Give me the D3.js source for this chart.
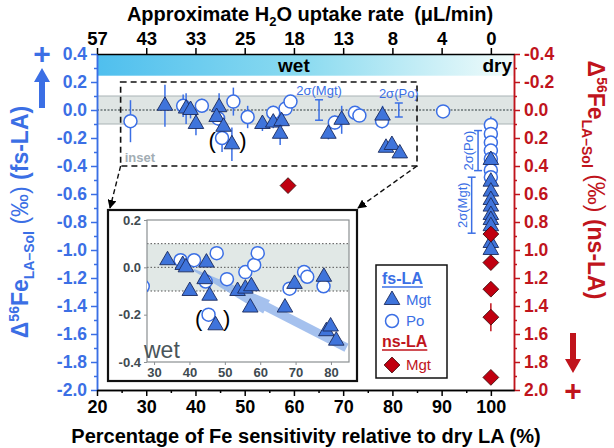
<!DOCTYPE html>
<html><head><meta charset="utf-8">
<script src="https://cdn.jsdelivr.net/npm/d3@7"></script>
<style>body{margin:0;background:#fff} svg{display:block} text{font-family:"Liberation Sans",Arial,Helvetica,sans-serif}</style>
</head><body><svg id="c" width="614" height="448"></svg>
<script>
// ---------------- DATA ----------------
const bottomTicks = [20, 30, 40, 50, 60, 70, 80, 90, 100];
const topTickLabels = ["57", "43", "33", "25", "18", "13", "8", "4", "0"];
const leftTicks = [0.4, 0.2, 0.0, -0.2, -0.4, -0.6, -0.8, -1.0, -1.2, -1.4, -1.6, -1.8, -2.0];
const rightTicks = [-0.4, -0.2, 0.0, 0.2, 0.4, 0.6, 0.8, 1.0, 1.2, 1.4, 1.6, 1.8, 2.0];
const insetXTicks = [30, 40, 50, 60, 70, 80];
const insetYTicks = [0.2, 0.0, -0.2, -0.4];

// fs-LA, magnetite (wet runs)
const mgtWetX   = [33.8, 38.1, 39.0, 40.1, 44.8, 44.3, 45.7, 47.4, 53.6, 55.8, 57.5, 57.2, 67.0, 69.7, 78.0, 78.7, 79.9, 81.5];
const mgtWetV   = [0.03, 0.01, 0.00, -0.10, 0.02, -0.05, -0.12, -0.245, -0.10, -0.09, -0.08, -0.17, -0.17, -0.07, -0.04, -0.27, -0.25, -0.31];
const mgtWetErr = [0.15, 0.11, 0.06, 0.08, 0.10, 0.05, 0.05, 0.12, 0.05, 0.04, 0.04, 0.08, 0.04, 0.10, 0.07, 0, 0, 0];
// fs-LA, pyrrhotite (wet runs)
const poWetX   = [26.8, 37.5, 41.3, 47.7, 44.6, 45.4, 50.6, 55.8, 58.3, 59.3, 68.3, 72.4, 73.3, 77.9, 90.3];
const poWetV   = [-0.08, 0.03, 0.03, 0.06, -0.06, -0.20, -0.05, -0.02, 0.01, 0.06, -0.09, -0.02, -0.04, -0.08, -0.01];
const poWetErr = [0.15, 0.08, 0.05, 0.10, 0.05, 0.10, 0.08, 0.05, 0.04, 0.04, 0.05, 0.04, 0.04, 0.05, 0];
// fs-LA dry runs (x = 100)
const poDryV  = [-0.107, -0.171, -0.233, -0.29, -0.35, -0.43, -0.48];
const mgtDryV = [-0.357, -0.512, -0.583, -0.643, -0.69, -0.75, -0.786, -0.83, -0.95, -1.0];
// ns-LA magnetite (right axis)
const nsMgtX   = [58.8, 100, 100, 100, 100, 100];
const nsMgtV   = [0.54, 0.886, 1.09, 1.28, 1.48, 1.91];
const nsMgtErr = [0, 0, 0, 0, 0.1, 0];
// 2-sigma reference bars: [x, centre, half-length, label]
const sigmaBarsTop = [[65.1, 0, 0.073, "2σ(Mgt)"], [81.3, 0, 0.05, "2σ(Po)"]];
const sigmaBarsDry = [[97.4, -0.29, 0.143, "2σ(Po)"], [96.1, -0.68, 0.2, "2σ(Mgt)"]];
// inset trend arrow (x, value)
const trendX = [41.1, 61.8, 84.4];
const trendV = [-0.01, -0.167, -0.34];
// zoom box in main plot (x range, value range)
const zoomBoxX = [24.8, 85];
const zoomBoxV = [0.2, -0.4];

// ---------------- STYLE ----------------
const BLUE = "#3b6fe5", RED = "#c0141c", TRI_FILL = "#3f74db", TRI_STROKE = "#1b2a5c";
const svg = d3.select("#c");
const P = {l: 97, r: 514, t: 54, b: 390};

const x = d3.scaleLinear().domain([20, 104.7]).range([P.l, P.r]);
const yL = d3.scaleLinear().domain([0.4, -2.0]).range([P.t, P.b]);
const yR = d3.scaleLinear().domain([-0.4, 2.0]).range([P.t, P.b]);

const fmt = v => (Math.abs(v) < 1e-9 ? 0 : v).toFixed(1);

// gradient
const defs = svg.append("defs");
const g1 = defs.append("linearGradient").attr("id", "wetgrad");
g1.append("stop").attr("offset", "0").attr("stop-color", "#4fbfee");
g1.append("stop").attr("offset", "0.5").attr("stop-color", "#8cdbf0");
g1.append("stop").attr("offset", "1").attr("stop-color", "#f2fcfb");
defs.append("clipPath").attr("id", "mainclip").append("rect")
  .attr("x", P.l).attr("y", P.t).attr("width", P.r - P.l).attr("height", P.b - P.t);
const mk = defs.append("marker").attr("id", "ah").attr("viewBox", "0 0 10 10").attr("refX", 9).attr("refY", 5)
  .attr("markerWidth", 9).attr("markerHeight", 9).attr("orient", "auto").attr("markerUnits", "userSpaceOnUse");
mk.append("path").attr("d", "M0,0 L10,5 L0,10 Z").attr("fill", "#000");

// wet bar
svg.append("rect").attr("x", P.l).attr("y", yL(0.4)).attr("width", P.r - P.l).attr("height", yL(0.245) - yL(0.4))
  .attr("fill", "url(#wetgrad)");
svg.append("text").attr("x", x(60)).attr("y", 72).attr("text-anchor", "middle").attr("font-size", 19).attr("font-weight", "bold").text("wet");
svg.append("text").attr("x", P.r - 2).attr("y", 72).attr("text-anchor", "end").attr("font-size", 19).attr("font-weight", "bold").text("dry");

// grey band
svg.append("rect").attr("x", P.l).attr("y", yL(0.1)).attr("width", P.r - P.l).attr("height", yL(-0.1) - yL(0.1))
  .attr("fill", "#dfe5e4");
[0.1, -0.1].forEach(v => svg.append("line").attr("x1", P.l).attr("x2", P.r).attr("y1", yL(v)).attr("y2", yL(v))
  .attr("stroke", "#a9b3b5").attr("stroke-width", 1));
svg.append("line").attr("x1", P.l).attr("x2", P.r).attr("y1", yL(0)).attr("y2", yL(0))
  .attr("stroke", "#2d3a3d").attr("stroke-width", 1.2).attr("stroke-dasharray", "2,1.5");

// dashed zoom box
svg.append("rect").attr("x", x(zoomBoxX[0])).attr("y", yL(zoomBoxV[0])).attr("width", x(zoomBoxX[1]) - x(zoomBoxX[0]))
  .attr("height", yL(zoomBoxV[1]) - yL(zoomBoxV[0])).attr("fill", "none").attr("stroke", "#111").attr("stroke-width", 1.6)
  .attr("stroke-dasharray", "6,4");
svg.append("text").attr("x", x(zoomBoxX[0]) + 4).attr("y", yL(zoomBoxV[1]) - 4).attr("font-size", 13).attr("font-weight", "bold")
  .attr("fill", "#a2adb4").text("inset");

// ---------- marks helpers ----------
const triPath = d3.symbol().type(d3.symbolTriangle).size(105)();
const diaPath = d3.symbol().type(d3.symbolSquare).size(125)();
function errBars(g, xs, vs, es, xs_, ys_, color) {
  g.selectAll(null).data(xs.map((d, i) => [d, vs[i], es[i]]).filter(d => d[2] > 0)).join("line")
    .attr("x1", d => xs_(d[0])).attr("x2", d => xs_(d[0]))
    .attr("y1", d => ys_(d[1] + d[2])).attr("y2", d => ys_(d[1] - d[2]))
    .attr("stroke", color).attr("stroke-width", 1.5);
}
function circles(g, xs, vs, xs_, ys_, r) {
  g.selectAll(null).data(xs.map((d, i) => [d, vs[i]])).join("circle")
    .attr("cx", d => xs_(d[0])).attr("cy", d => ys_(d[1])).attr("r", r)
    .attr("fill", "#fff").attr("stroke", BLUE).attr("stroke-width", 1.5);
}
function tris(g, xs, vs, xs_, ys_) {
  g.selectAll(null).data(xs.map((d, i) => [d, vs[i]])).join("path")
    .attr("d", triPath).attr("transform", d => `translate(${xs_(d[0])},${ys_(d[1])})`)
    .attr("fill", TRI_FILL).attr("stroke", TRI_STROKE).attr("stroke-width", 0.9);
}
function dias(g, xs, vs, xs_, ys_) {
  g.selectAll(null).data(xs.map((d, i) => [d, vs[i]])).join("path")
    .attr("d", diaPath).attr("transform", d => `translate(${xs_(d[0])},${ys_(d[1])}) rotate(45)`)
    .attr("fill", "#c00010").attr("stroke", "#3a0a0a").attr("stroke-width", 0.8);
}

// ---------- main marks ----------
const gm = svg.append("g").attr("clip-path", "url(#mainclip)");
const dryX = v => v.map(() => 100);
errBars(gm, poWetX, poWetV, poWetErr, x, yL, BLUE);
errBars(gm, mgtWetX, mgtWetV, mgtWetErr, x, yL, BLUE);
errBars(gm, [100], [poDryV[0]], [0.06], x, yL, BLUE);
errBars(gm, nsMgtX, nsMgtV, nsMgtErr, x, yR, RED);
circles(gm, poWetX, poWetV, x, yL, 6.5);
circles(gm, dryX(poDryV), poDryV, x, yL, 6.5);
tris(gm, mgtWetX, mgtWetV, x, yL);
tris(gm, dryX(mgtDryV), mgtDryV, x, yL);
dias(gm, nsMgtX, nsMgtV, x, yR);

// parentheses around outliers
svg.append("text").attr("x", x(45.4) - 10).attr("y", yL(-0.22) + 7).attr("font-size", 22).attr("text-anchor", "middle").text("(");
svg.append("text").attr("x", x(47.4) + 11).attr("y", yL(-0.22) + 7).attr("font-size", 22).attr("text-anchor", "middle").text(")");

// sigma bars
function sigma(d, horizLabel) {
  const X = x(d[0]);
  svg.append("line").attr("x1", X).attr("x2", X).attr("y1", yL(d[1] + d[2])).attr("y2", yL(d[1] - d[2])).attr("stroke", BLUE).attr("stroke-width", 1.5);
  [d[1] + d[2], d[1] - d[2]].forEach(v => svg.append("line").attr("x1", X - 4).attr("x2", X + 4).attr("y1", yL(v)).attr("y2", yL(v)).attr("stroke", BLUE).attr("stroke-width", 1.5));
  if (horizLabel) {
    svg.append("text").attr("x", X).attr("y", yL(d[1] + d[2]) - 5).attr("text-anchor", "middle").attr("font-size", 13).attr("fill", BLUE).text(d[3]);
  } else {
    svg.append("text").attr("transform", `translate(${X - 5},${yL(d[1])}) rotate(-90)`).attr("text-anchor", "middle")
      .attr("font-size", 13).attr("fill", BLUE).text(d[3]);
  }
}
sigmaBarsTop.forEach(d => sigma(d, true));
sigmaBarsDry.forEach(d => sigma(d, false));

// ---------- axes ----------
function styleAxis(g, color, size) {
  g.select(".domain").attr("stroke", color).attr("stroke-width", 1.5);
  g.selectAll(".tick line").attr("stroke", color).attr("stroke-width", 1.5);
  g.selectAll("text").attr("fill", color).attr("font-size", size).attr("font-weight", "bold")
    .attr("font-family", '"Liberation Sans",Arial,sans-serif');
}
const minorL = d3.range(0.3, -2.0, -0.2).map(v => +v.toFixed(1));
const minorR = minorL.map(v => -v);
const minorX = d3.range(25, 101, 10);

let ga = svg.append("g").attr("transform", `translate(${P.l},0)`).call(d3.axisLeft(yL).tickValues(minorL).tickFormat("").tickSize(3).tickSizeOuter(0));
styleAxis(ga, BLUE, 17);
ga = svg.append("g").attr("transform", `translate(${P.l},0)`).call(d3.axisLeft(yL).tickValues(leftTicks).tickFormat(fmt).tickSize(6).tickSizeOuter(0).tickPadding(4));
styleAxis(ga, BLUE, 17.5);

ga = svg.append("g").attr("transform", `translate(${P.r},0)`).call(d3.axisRight(yR).tickValues(minorR).tickFormat("").tickSize(3).tickSizeOuter(0));
styleAxis(ga, RED, 17);
ga = svg.append("g").attr("transform", `translate(${P.r},0)`).call(d3.axisRight(yR).tickValues(rightTicks).tickFormat(fmt).tickSize(6).tickSizeOuter(0).tickPadding(4));
styleAxis(ga, RED, 17.5);

ga = svg.append("g").attr("transform", `translate(0,${P.b})`).call(d3.axisBottom(x).tickValues(minorX).tickFormat("").tickSize(3).tickSizeOuter(0));
styleAxis(ga, "#000", 18);
ga = svg.append("g").attr("transform", `translate(0,${P.b})`).call(d3.axisBottom(x).tickValues(bottomTicks).tickSize(6).tickSizeOuter(0).tickPadding(4));
styleAxis(ga, "#000", 18);

ga = svg.append("g").attr("transform", `translate(0,${P.t})`).call(d3.axisTop(x).tickValues(bottomTicks).tickFormat((d, i) => topTickLabels[i]).tickSize(6).tickSizeOuter(0).tickPadding(3));
styleAxis(ga, "#000", 18.5);

// ---------- titles ----------
const tt = svg.append("text").attr("x", 310).attr("y", 21).attr("text-anchor", "middle").attr("font-size", 20).attr("font-weight", "bold");
tt.append("tspan").text("Approximate H");
tt.append("tspan").attr("dy", 5).attr("font-size", 13).text("2");
tt.append("tspan").attr("dy", -5).text("O uptake rate\u2002(μL/min)");

svg.append("text").attr("x", 306).attr("y", 443).attr("text-anchor", "middle").attr("font-size", 20).attr("font-weight", "bold")
  .text("Percentage of Fe sensitivity relative to dry LA (%)");

function yTitle(tx, ty, rot, color, tail) {
  const t = svg.append("text").attr("transform", `translate(${tx},${ty}) rotate(${rot})`).attr("text-anchor", "middle")
    .attr("font-size", 23).attr("font-weight", "bold").attr("fill", color);
  t.append("tspan").text("Δ");
  t.append("tspan").attr("dy", -9).attr("font-size", 14).text("56");
  t.append("tspan").attr("dy", 9).text("Fe");
  t.append("tspan").attr("dy", 6).attr("font-size", 14).text("LA–Sol");
  t.append("tspan").attr("dy", -6).attr("font-weight", "normal").text(" (‰) ");
  t.append("tspan").text(tail);
}
yTitle(28, 222, -90, BLUE, "(fs-LA)");
yTitle(588, 180, 90, RED, "(ns-LA)");

// plus signs and arrows
svg.append("text").attr("x", 42).attr("y", 64).attr("text-anchor", "middle").attr("font-size", 30).attr("font-weight", "bold").attr("fill", BLUE).text("+");
svg.append("path").attr("d", "M42,68 L50,82 L45,82 L45,108 L39,108 L39,82 L34,82 Z").attr("fill", BLUE);
svg.append("path").attr("d", "M573,373 L581,359 L576,359 L576,333 L570,333 L570,359 L565,359 Z").attr("fill", RED);
svg.append("text").attr("x", 573).attr("y", 401).attr("text-anchor", "middle").attr("font-size", 30).attr("font-weight", "bold").attr("fill", RED).text("+");

// ---------- inset ----------
const IB = {l: 108, t: 210, r: 357, b: 381};
const IP = {l: 147, t: 220, r: 349, b: 362};
const xi = d3.scaleLinear().domain([28, 85.1]).range([IP.l, IP.r]);
const yi = d3.scaleLinear().domain([-0.4, 0.2]).range([IP.b, IP.t]);

// dashed connectors
svg.append("line").attr("x1", x(zoomBoxX[0])).attr("y1", yL(zoomBoxV[1])).attr("x2", IB.l + 2).attr("y2", IB.t - 2)
  .attr("stroke", "#111").attr("stroke-width", 1.4).attr("stroke-dasharray", "5,3").attr("marker-end", "url(#ah)");
svg.append("line").attr("x1", x(zoomBoxX[1])).attr("y1", yL(zoomBoxV[1])).attr("x2", IB.r + 1).attr("y2", IB.t - 2)
  .attr("stroke", "#111").attr("stroke-width", 1.4).attr("stroke-dasharray", "5,3").attr("marker-end", "url(#ah)");

svg.append("rect").attr("x", IB.l).attr("y", IB.t).attr("width", IB.r - IB.l).attr("height", IB.b - IB.t)
  .attr("fill", "#fff").attr("stroke", "#111").attr("stroke-width", 2.2);
defs.append("clipPath").attr("id", "iclip").append("rect").attr("x", IP.l).attr("y", IP.t).attr("width", IP.r - IP.l).attr("height", IP.b - IP.t);
const gi = svg.append("g");
gi.append("rect").attr("x", IP.l).attr("y", yi(0.1)).attr("width", IP.r - IP.l).attr("height", yi(-0.1) - yi(0.1)).attr("fill", "#e1e8e6");
[0.1, 0, -0.1].forEach(v => gi.append("line").attr("x1", IP.l).attr("x2", IP.r).attr("y1", yi(v)).attr("y2", yi(v))
  .attr("stroke", "#555").attr("stroke-width", 1).attr("stroke-dasharray", "1.5,2"));
gi.append("rect").attr("x", IP.l).attr("y", IP.t).attr("width", IP.r - IP.l).attr("height", IP.b - IP.t)
  .attr("fill", "none").attr("stroke", "#8a8f92").attr("stroke-width", 1.2);
let ia = gi.append("g").attr("transform", `translate(0,${IP.b})`).call(d3.axisBottom(xi).tickValues(insetXTicks).tickSize(3).tickSizeOuter(0).tickPadding(3));
ia.select(".domain").remove();
ia.selectAll(".tick line").attr("stroke", "#8a8f92");
ia.selectAll("text").attr("fill", "#3e4a50").attr("font-size", 13).attr("font-weight", "bold");
ia = gi.append("g").attr("transform", `translate(${IP.l},0)`).call(d3.axisLeft(yi).tickValues(insetYTicks).tickFormat(fmt).tickSize(3).tickSizeOuter(0).tickPadding(3));
ia.select(".domain").remove();
ia.selectAll(".tick line").attr("stroke", "#8a8f92");
ia.selectAll("text").attr("fill", "#3e4a50").attr("font-size", 13).attr("font-weight", "bold");

const gic = gi.append("g").attr("clip-path", "url(#iclip)");
// trend arrow
(function () {
  const p0 = [xi(trendX[0]), yi(trendV[0])], p1 = [xi(trendX[1]), yi(trendV[1])], p2 = [xi(trendX[2]), yi(trendV[2])];
  const dx = p2[0] - p0[0], dy = p2[1] - p0[1], L = Math.hypot(dx, dy), nx = -dy / L, ny = dx / L;
  const pt = (p, w) => [p[0] + nx * w, p[1] + ny * w];
  const pts = [pt(p0, 1), pt(p1, 7.5), pt(p1, 4.5), pt(p2, 4.5), pt(p2, -4.5), pt(p1, -4.5), pt(p1, -7.5), pt(p0, -1)];
  gic.append("path").attr("d", "M" + pts.map(p => p.join(",")).join("L") + "Z").attr("fill", "#8fb1ea").attr("opacity", 0.8);
})();
circles(gic, poWetX, poWetV, xi, yi, 6.5);
tris(gic, mgtWetX, mgtWetV, xi, yi);
gi.append("text").attr("x", xi(45.4) - 10).attr("y", yi(-0.22) + 7).attr("font-size", 22).attr("text-anchor", "middle").text("(");
gi.append("text").attr("x", xi(47.4) + 11).attr("y", yi(-0.22) + 7).attr("font-size", 22).attr("text-anchor", "middle").text(")");
gi.append("text").attr("x", IP.l - 3).attr("y", IP.b - 4).attr("font-size", 23).attr("fill", "#4a555a").text("wet");

// ---------- legend ----------
const LG = {l: 376, t: 265, r: 447, b: 378};
svg.append("rect").attr("x", LG.l).attr("y", LG.t).attr("width", LG.r - LG.l).attr("height", LG.b - LG.t)
  .attr("fill", "#fff").attr("stroke", "#111").attr("stroke-width", 1.5);
function lgHead(y, txt, col) {
  const t = svg.append("text").attr("x", LG.l + 6).attr("y", y).attr("font-size", 16).attr("font-weight", "bold").attr("fill", col).text(txt);
  const w = t.node().getComputedTextLength();
  svg.append("line").attr("x1", LG.l + 6).attr("x2", LG.l + 6 + w).attr("y1", y + 3).attr("y2", y + 3).attr("stroke", col).attr("stroke-width", 1.5);
}
lgHead(284, "fs-LA", BLUE);
tris(svg, [0], [0], () => LG.l + 16, () => 300);
svg.append("circle").attr("cx", LG.l + 16).attr("cy", 321).attr("r", 6.5).attr("fill", "#fff").attr("stroke", BLUE).attr("stroke-width", 1.5);
svg.append("text").attr("x", LG.l + 30).attr("y", 305).attr("font-size", 15).attr("fill", BLUE).text("Mgt");
svg.append("text").attr("x", LG.l + 30).attr("y", 326).attr("font-size", 15).attr("fill", BLUE).text("Po");
lgHead(347, "ns-LA", RED);
dias(svg, [0], [0], () => LG.l + 16, () => 365);
svg.append("text").attr("x", LG.l + 30).attr("y", 370).attr("font-size", 15).attr("fill", RED).text("Mgt");
</script></body></html>
